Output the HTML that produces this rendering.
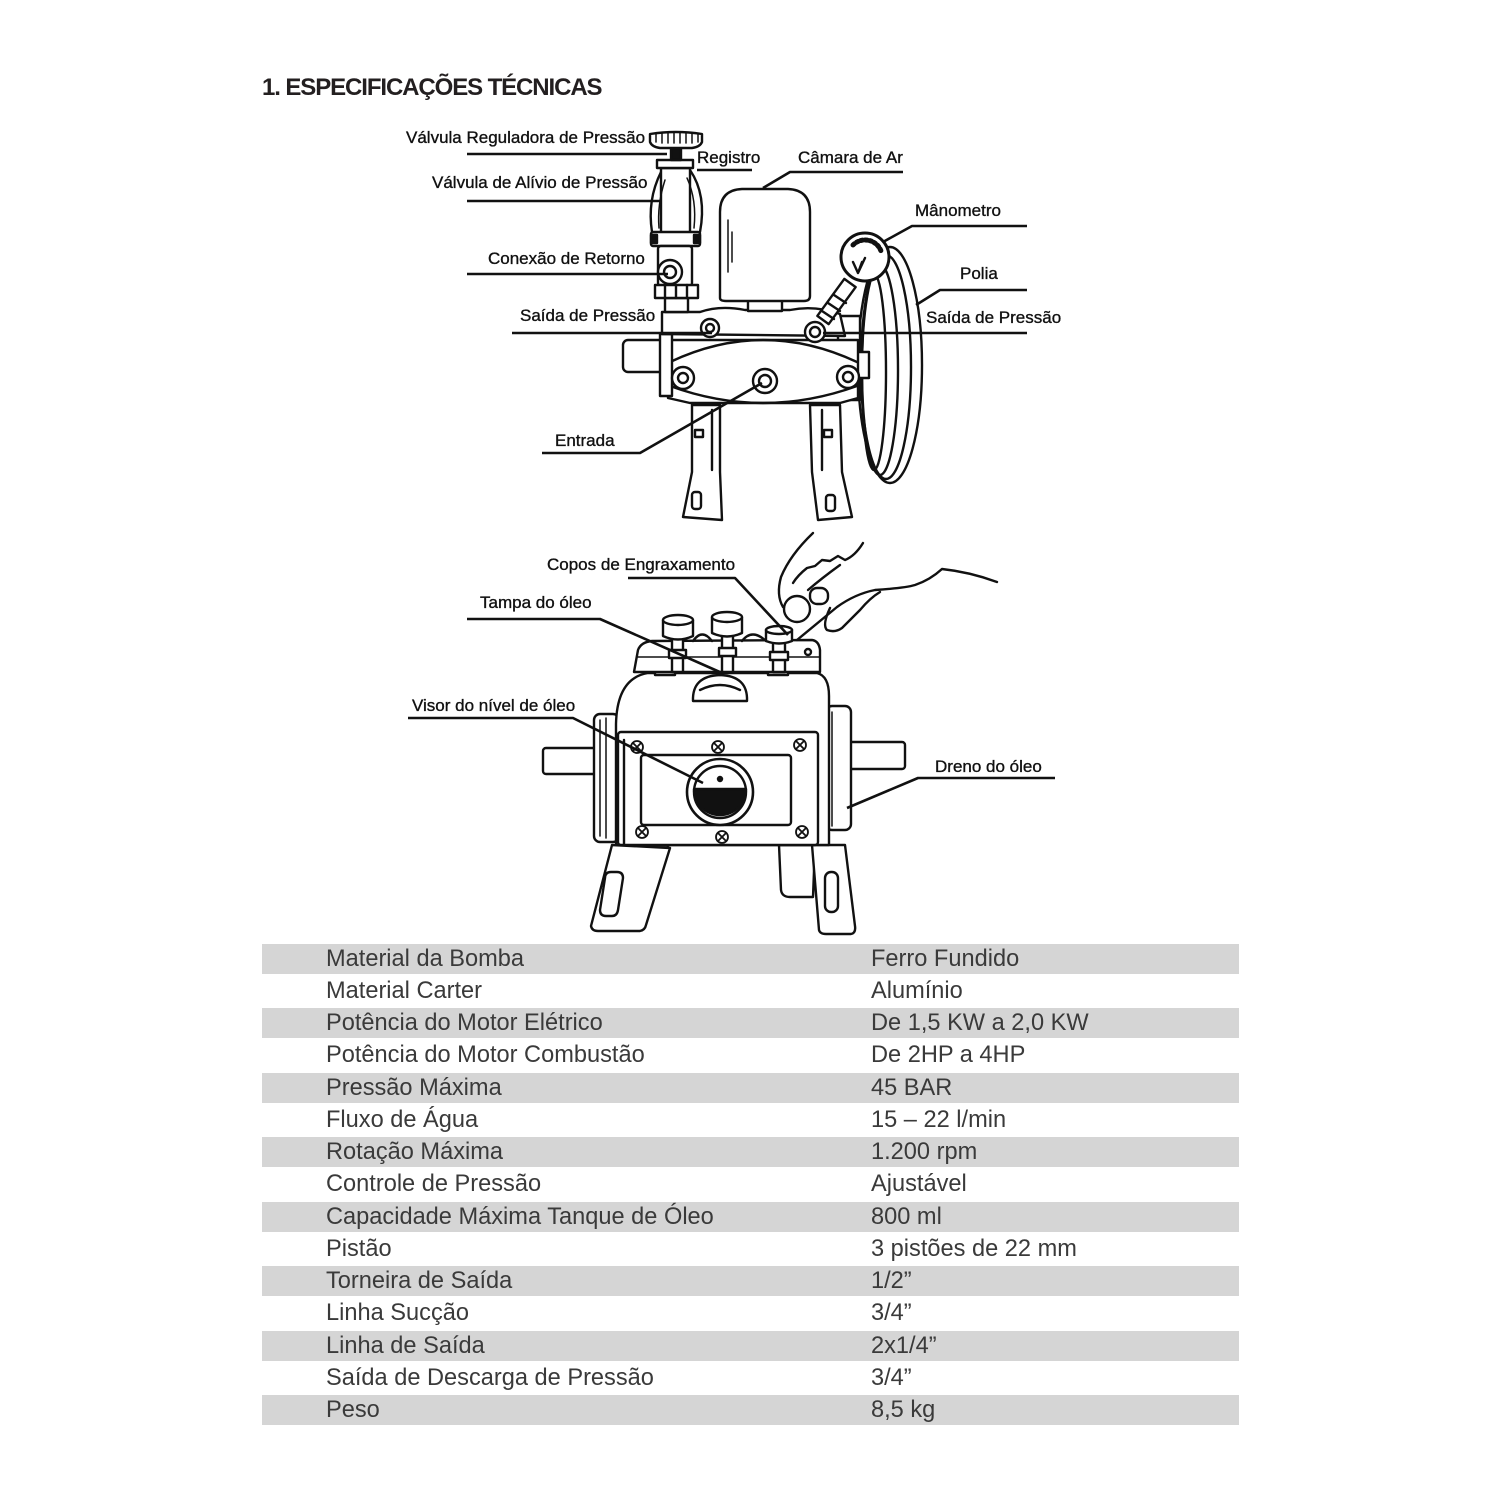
<!DOCTYPE html>
<html>
<head>
<meta charset="utf-8">
<style>
  html,body{margin:0;padding:0;background:#fff;}
  body{width:1500px;height:1500px;position:relative;overflow:hidden;font-family:"Liberation Sans",sans-serif;}
  svg{position:absolute;left:0;top:0;}
  .row{position:absolute;left:262px;width:977px;height:30px;line-height:30px;font-size:23.6px;color:#3a3a3a;font-family:"Liberation Sans",sans-serif;white-space:nowrap;}
  .g{background:#d5d5d5;}
  .row .a{position:absolute;left:64px;top:0;}
  .row .b{position:absolute;left:609px;top:0;}
</style>
</head>
<body>
<svg width="1500" height="1500" viewBox="0 0 1500 1500" xmlns="http://www.w3.org/2000/svg">
  <!-- Title -->
  <text x="262" y="95" font-family="Liberation Sans, sans-serif" font-size="24" font-weight="bold" letter-spacing="-1.1" fill="#231f20">1. ESPECIFICAÇÕES TÉCNICAS</text>

  <!-- ================= TOP PUMP ================= -->
  <g stroke="#111" stroke-width="2.4" fill="#fff" stroke-linejoin="round" stroke-linecap="round">
    <!-- pulley -->
    <g fill="none">
      <ellipse cx="890" cy="365" rx="32" ry="118"/>
      <ellipse cx="886" cy="367" rx="25" ry="112"/>
      <ellipse cx="880" cy="370" rx="18" ry="105"/>
      <ellipse cx="874" cy="372" rx="12" ry="98"/>
    </g>
    <!-- legs -->
    <path d="M692,405 L692,472 L683,517 L722,520 L720,472 L720,405 Z"/>
    <path d="M712,410 L712,470" fill="none"/>
    <rect x="692" y="492" width="9" height="17" rx="3"/>
    <rect x="695" y="430" width="8" height="7"/>
    <path d="M810,405 L812,472 L818,520 L852,517 L842,472 L840,405 Z"/>
    <path d="M822,410 L822,470" fill="none"/>
    <rect x="826" y="495" width="9" height="16" rx="3"/>
    <rect x="824" y="430" width="8" height="7"/>
    <!-- right box / hub -->
    <rect x="838" y="316" width="22" height="84"/>
    <rect x="857" y="352" width="12" height="26"/>
    <!-- lower body -->
    <path d="M668,340 L858,340 L858,398 L840,403 L690,403 L668,398 Z"/>
    <path d="M670,362 Q763,318 857,362" fill="none"/>
    <path d="M670,386 Q763,420 857,386" fill="none"/>
    <!-- left shaft -->
    <rect x="623" y="340" width="45" height="32" rx="5"/>
    <rect x="660" y="334" width="12" height="62"/>
    <!-- manifold -->
    <path d="M662,334 L662,312 L700,312 Q720,305 745,310 L790,310 Q815,305 840,314 L845,336 Z"/>
    <!-- air chamber -->
    <rect x="748" y="299" width="34" height="12"/>
    <path d="M720,298 L720,212 Q720,190 742,189 L788,189 Q810,190 810,212 L810,296 Q810,301 804,301 L726,301 Q720,301 720,298 Z"/>
    <path d="M728,220 L728,272 M732,232 L732,262" fill="none" stroke-width="1.5"/>
    <!-- valve assembly -->
    <path d="M661,172 Q647,200 652,232" fill="none"/>
    <path d="M690,170 Q707,195 700,232" fill="none"/>
    <rect x="661" y="168" width="29" height="66"/>
    <path d="M665,180 Q657,205 659,228 M687,178 Q697,200 694,228" fill="none" stroke-width="1.5"/>
    <rect x="651" y="232" width="49" height="14" rx="2"/>
    <rect x="651" y="235" width="6" height="8" fill="#111"/>
    <rect x="694" y="235" width="6" height="8" fill="#111"/>
    <rect x="658" y="246" width="34" height="40" rx="3"/>
    <circle cx="670" cy="272" r="12"/>
    <circle cx="670" cy="272" r="6"/>
    <rect x="665" y="298" width="23" height="14"/>
    <rect x="655" y="285" width="43" height="13"/>
    <path d="M665,285 L665,298 M676,285 L676,298 M687,285 L687,298" fill="none"/>
    <rect x="657" y="160" width="36" height="8"/>
    <rect x="671" y="147" width="10" height="13" fill="#111"/>
    <path d="M650,142 L650,134 Q676,130 702,134 L702,142 Q700,147 692,148 L660,148 Q652,147 650,142 Z"/>
    <path d="M656,134 L656,142 M662,133 L662,143 M668,133 L668,143 M674,133 L674,143 M680,133 L680,143 M686,133 L686,143 M692,133 L692,143 M698,134 L698,142" fill="none" stroke-width="1.5"/>
    <!-- gauge -->
    <polygon points="828.7,324.1 817.3,315.9 844.3,278.9 855.7,287.1"/>
    <path d="M822,311 L834,319 M828,303 L840,311 M834,295 L846,303" fill="none"/>
    <circle cx="865" cy="257" r="24" stroke-width="3"/>
    <path d="M853,245 A17,17 0 0,1 881,251" fill="none" stroke-width="5" stroke-dasharray="2 2.5"/>
    <path d="M853,262 L858,273 L862,262 M865,258 L858,273" fill="none"/>
    <!-- bolts -->
    <circle cx="710" cy="328" r="9"/><circle cx="710" cy="328" r="4"/>
    <circle cx="815" cy="332" r="10"/><circle cx="815" cy="332" r="5"/>
    <circle cx="683" cy="378" r="11"/><circle cx="683" cy="378" r="5"/>
    <circle cx="765" cy="381" r="12"/><circle cx="765" cy="381" r="6"/>
    <circle cx="848" cy="377" r="11"/><circle cx="848" cy="377" r="5"/>
  </g>

  <!-- top leader lines -->
  <g stroke="#111" stroke-width="2.6" fill="none" stroke-linejoin="round">
    <path d="M467,154 L667,154"/>
    <path d="M467,201 L660,201"/>
    <path d="M697,170 L752,170"/>
    <path d="M903,172 L790,172 L763,188"/>
    <path d="M1027,226 L912,226 L883,242"/>
    <path d="M1027,290 L940,290 L916,305"/>
    <path d="M512,333 L712,333"/>
    <path d="M823,333 L1027,333"/>
    <path d="M467,274 L668,274"/>
    <path d="M542,453 L640,453 L762,383"/>
  </g>

  <!-- ================= BOTTOM PUMP ================= -->
  <g stroke="#111" stroke-width="2.4" fill="#fff" stroke-linejoin="round" stroke-linecap="round">
    <!-- back leg pieces -->
    <path d="M624,845 L624,866 Q624,872 632,872 L662,872 L668,845 Z"/>
    <path d="M779,845 L781,890 Q782,897 790,897 L813,897 L815,845 Z"/>
    <!-- legs -->
    <path d="M612,845 L591,926 Q592,931 598,931 L640,931 Q645,930 646,925 L670,848 Z"/>
    <path d="M605,878 L600,910 Q600,916 606,916 L612,916 Q617,916 618,910 L623,878 Q623,872 617,872 L611,872 Q605,872 605,878 Z"/>
    <path d="M812,845 L819,930 Q820,934 826,934 L851,934 Q856,933 855,926 L845,845 Z"/>
    <rect x="825" y="872" width="13" height="40" rx="6"/>
    <!-- shafts -->
    <rect x="543" y="748" width="56" height="26" rx="3"/>
    <rect x="848" y="742" width="57" height="27" rx="3"/>
    <!-- flanges -->
    <rect x="594" y="714" width="25" height="128" rx="6"/>
    <path d="M600,720 L600,836 M606,718 L606,838" fill="none" stroke-width="1.5"/>
    <rect x="826" y="706" width="25" height="124" rx="6"/>
    <path d="M832,712 L832,826" fill="none" stroke-width="1.5"/>
    <!-- body -->
    <path d="M616,845 L616,724 Q617,678 648,673 L817,673 Q829,676 829,696 L829,845 Z"/>
    <!-- top plate -->
    <rect x="655" y="662" width="20" height="13"/>
    <rect x="768" y="662" width="20" height="13"/>
    <path d="M634,672 L638,650 Q641,642 652,641 L812,640 Q819,641 820,650 L820,672 Z"/>
    <path d="M638,657 L820,657" fill="none" stroke-width="1.5"/>
    <path d="M693,641 Q702,628 712,641 M742,641 Q752,628 766,641" fill="none"/>
    <!-- cups -->
    <rect x="672" y="634" width="11" height="38"/>
    <rect x="669" y="650" width="17" height="8"/>
    <path d="M663,620 L663,636 Q678,643 693,636 L693,620 Z"/>
    <ellipse cx="678" cy="620" rx="15" ry="5"/>
    <rect x="722" y="631" width="11" height="41"/>
    <rect x="719" y="648" width="17" height="8"/>
    <path d="M712,617 L712,633 Q727,640 742,633 L742,617 Z"/>
    <ellipse cx="727" cy="617" rx="15" ry="5"/>
    <rect x="773" y="640" width="12" height="32"/>
    <rect x="770" y="652" width="18" height="8"/>
    <path d="M766,630 L766,641 Q779,646 792,641 L792,630 Z"/>
    <ellipse cx="779" cy="630" rx="13" ry="4"/>
    <circle cx="808" cy="652" r="3"/>
    <!-- oil cap -->
    <path d="M693,701 Q692,676 720,675 Q748,676 747,701 Z"/>
    <path d="M700,690 Q720,680 740,690" fill="none"/>
    <!-- cover -->
    <rect x="618" y="732" width="200" height="113" rx="3"/>
    <path d="M624,740 L624,845" fill="none"/>
    <rect x="641" y="755" width="150" height="70" rx="3"/>
    <!-- screws -->
    <g stroke-width="1.8">
      <circle cx="637" cy="747" r="6"/><path d="M633,743 L641,751 M641,743 L633,751" fill="none"/>
      <circle cx="718" cy="747" r="6"/><path d="M714,743 L722,751 M722,743 L714,751" fill="none"/>
      <circle cx="800" cy="745" r="6"/><path d="M796,741 L804,749 M804,741 L796,749" fill="none"/>
      <circle cx="642" cy="832" r="6"/><path d="M638,828 L646,836 M646,828 L638,836" fill="none"/>
      <circle cx="722" cy="837" r="6"/><path d="M718,833 L726,841 M726,833 L718,841" fill="none"/>
      <circle cx="802" cy="832" r="6"/><path d="M798,828 L806,836 M806,828 L798,836" fill="none"/>
    </g>
    <!-- sight glass -->
    <circle cx="720" cy="792" r="33" stroke-width="2.6"/>
    <circle cx="720" cy="792" r="26"/>
    <path d="M694,789 L746,789 A26,26 0 0,1 694,789 Z" fill="#111"/>
    <circle cx="720" cy="779" r="2" fill="#111"/>
    <!-- hand -->
    <g fill="none" stroke-width="2.4">
      <path d="M813,533 Q790,555 781,577 Q776,595 783,607"/>
      <path d="M863,543 Q855,556 845,560 L838,556 L830,561 L822,560 L815,566 L807,568 Q798,575 793,583"/>
      <path d="M840,565 Q822,578 808,590"/>
      <path d="M797,640 L837,607 Q855,594 875,590 Q905,588 915,585 Q930,580 942,569 Q970,572 997,582"/>
      <path d="M830,608 Q822,625 827,630 Q835,633 842,628 L860,610 Q870,598 880,592"/>
    </g>
    <circle cx="797" cy="609" r="13"/>
    <rect x="810" y="588" width="18" height="16" rx="7"/>
  </g>

  <!-- bottom leader lines -->
  <g stroke="#111" stroke-width="2.6" fill="none" stroke-linejoin="round">
    <path d="M628,578 L735,578 L788,635"/>
    <path d="M467,619 L600,619 L722,673"/>
    <path d="M408,718 L573,718 L703,783"/>
    <path d="M1055,778 L918,778 L847,808"/>
  </g>

  <!-- labels -->
  <g font-family="Liberation Sans, sans-serif" font-size="17" fill="#111" stroke="#111" stroke-width="0.35">
    <text x="406" y="143">Válvula Reguladora de Pressão</text>
    <text x="697" y="163">Registro</text>
    <text x="798" y="163">Câmara de Ar</text>
    <text x="432" y="188">Válvula de Alívio de Pressão</text>
    <text x="915" y="216">Mânometro</text>
    <text x="488" y="264">Conexão de Retorno</text>
    <text x="960" y="279">Polia</text>
    <text x="520" y="321">Saída de Pressão</text>
    <text x="926" y="323">Saída de Pressão</text>
    <text x="555" y="446">Entrada</text>
    <text x="547" y="570">Copos de Engraxamento</text>
    <text x="480" y="608">Tampa do óleo</text>
    <text x="412" y="711">Visor do nível de óleo</text>
    <text x="935" y="772">Dreno do óleo</text>
  </g>
</svg>

<!-- Table -->
<div class="row g" style="top:943.5px"><span class="a">Material da Bomba</span><span class="b">Ferro Fundido</span></div>
<div class="row" style="top:975.75px"><span class="a">Material Carter</span><span class="b">Alumínio</span></div>
<div class="row g" style="top:1008px"><span class="a">Potência do Motor Elétrico</span><span class="b">De 1,5 KW a 2,0 KW</span></div>
<div class="row" style="top:1040.25px"><span class="a">Potência do Motor Combustão</span><span class="b">De 2HP a 4HP</span></div>
<div class="row g" style="top:1072.5px"><span class="a">Pressão Máxima</span><span class="b">45 BAR</span></div>
<div class="row" style="top:1104.75px"><span class="a">Fluxo de Água</span><span class="b">15 – 22 l/min</span></div>
<div class="row g" style="top:1137px"><span class="a">Rotação Máxima</span><span class="b">1.200 rpm</span></div>
<div class="row" style="top:1169.25px"><span class="a">Controle de Pressão</span><span class="b">Ajustável</span></div>
<div class="row g" style="top:1201.5px"><span class="a">Capacidade Máxima Tanque de Óleo</span><span class="b">800 ml</span></div>
<div class="row" style="top:1233.75px"><span class="a">Pistão</span><span class="b">3 pistões de 22 mm</span></div>
<div class="row g" style="top:1266px"><span class="a">Torneira de Saída</span><span class="b">1/2”</span></div>
<div class="row" style="top:1298.25px"><span class="a">Linha Sucção</span><span class="b">3/4”</span></div>
<div class="row g" style="top:1330.5px"><span class="a">Linha de Saída</span><span class="b">2x1/4”</span></div>
<div class="row" style="top:1362.75px"><span class="a">Saída de Descarga de Pressão</span><span class="b">3/4”</span></div>
<div class="row g" style="top:1395px"><span class="a">Peso</span><span class="b">8,5 kg</span></div>
</body>
</html>
